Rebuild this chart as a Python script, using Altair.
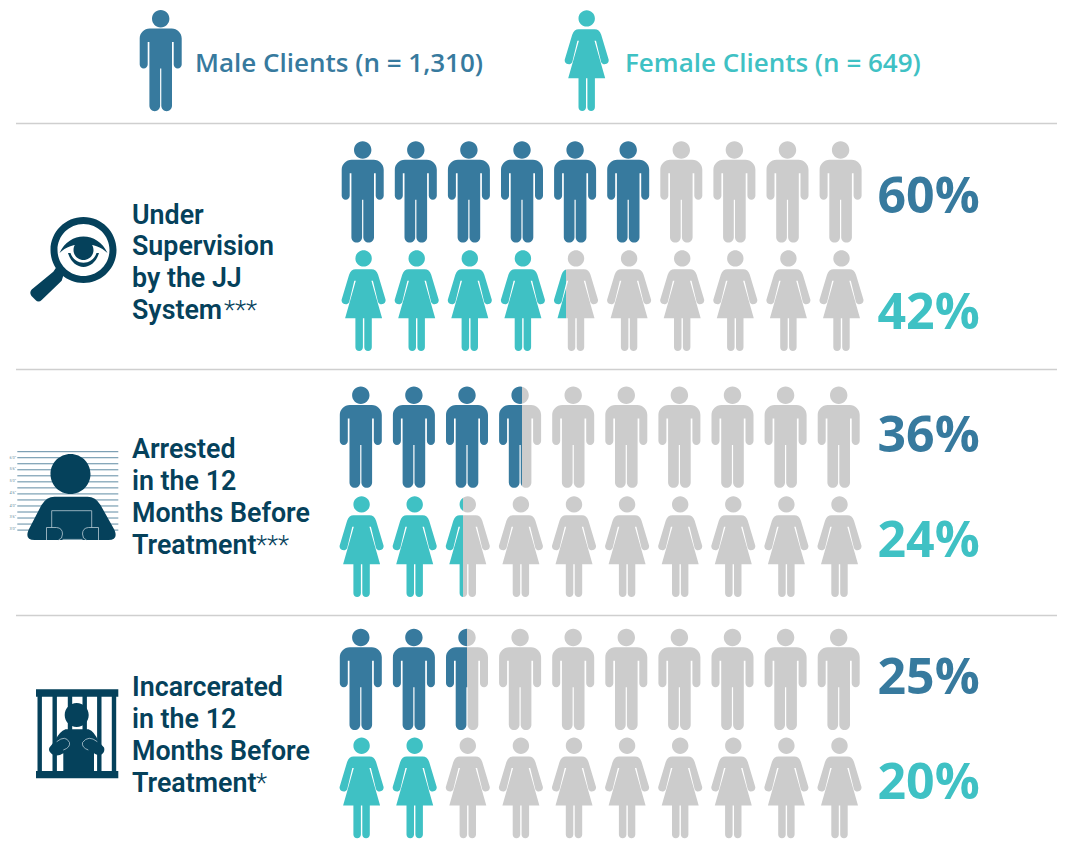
import altair as alt
import pandas as pd

# ---------- values ----------
indicators = ["Under Supervision by the JJ System", "Arrested in the 12 Months Before Treatment",
              "Incarcerated in the 12 Months Before Treatment"]
label_lines = [["Under", "Supervision", "by the JJ", "System"],
               ["Arrested", "in the 12", "Months Before", "Treatment"],
               ["Incarcerated", "in the 12", "Months Before", "Treatment"]]
significance = ["***", "***", "*"]
male_pct = [60, 36, 25]
female_pct = [42, 24, 20]
# number of figures coloured, as drawn in the picture
male_drawn = [6.0, 3.54, 2.5]
female_drawn = [4.27, 2.40, 2.0]
legend_text = ["Male Clients (n = 1,310)", "Female Clients (n = 649)"]
height_marks = ["6'0\"", "5'6\"", "5'0\"", "4'6\"", "4'0\"", "3'6\"", "3'0\""]

# ---------- style ----------
MALE = "#377a9e"
FEMALE = "#3fc1c4"
GREY = "#cccccc"
DARK = "#05415b"
LIGHT = "#b8cad4"
RULE = "#cfcfcf"
LABEL_FONT = "Roboto"
NUM_FONT = "Open Sans"

# ---------- layout (page pixels) ----------
W, H = 1049, 834
XS = alt.Scale(domain=[8, 8 + W], range=[0, W])
YS = alt.Scale(domain=[8, 8 + H], range=[0, H], reverse=False)
COL_STEP = 53.1
rows_male_x0 = [362.7, 360.8, 360.8]
rows_female_x0 = [363.6, 361.6, 361.6]
rows_male_y = [192, 437.3, 679.5]
rows_female_y = [300.7, 546.7, 788]
value_male_base = [213, 452, 694]
value_female_base = [329, 557, 799]
label_base = [[223.5, 255, 287, 319], [458, 490, 522, 554], [696, 728, 760, 792]]
star_x = [224, 256, 256]
rule_y = [123.5, 369.5, 615.5]

# ---------- glyphs: drawn 1:1 in pixels at size=4 ----------
MAN = ("M-8.7,-42 A8.7,8.7 0 1 1 8.7,-42 A8.7,8.7 0 1 1 -8.7,-42 Z "
       "M-11,-32.2 L11,-32.2 A10,10 0 0 1 21,-22.2 L21,3.8 A4,4 0 0 1 13,3.8 L13,-18.8 L11.3,-18.8 "
       "L11.3,45.15 A5.35,5.35 0 0 1 0.6,45.15 L0.6,7.8 L-0.6,7.8 L-0.6,45.15 A5.35,5.35 0 0 1 -11.3,45.15 "
       "L-11.3,-18.8 L-13,-18.8 L-13,3.8 A4,4 0 0 1 -21,3.8 L-21,-22.2 A10,10 0 0 1 -11,-32.2 Z")
WOMAN = ("M-8.2,-42.3 A8.2,8.2 0 1 1 8.2,-42.3 A8.2,8.2 0 1 1 -8.2,-42.3 Z "
         "M-8,-31.4 L8,-31.4 Q12.5,-31.4 14.5,-26 L22,-1 A4,4 0 0 1 14.4,1.2 L9.3,-20 L7.8,-20 L18.5,17.6 "
         "L8.2,17.6 L8.2,46.6 A3.75,3.75 0 0 1 0.7,46.6 L0.7,17.6 L-0.7,17.6 L-0.7,46.6 A3.75,3.75 0 0 1 -8.2,46.6 "
         "L-8.2,17.6 L-18.5,17.6 L-7.8,-20 L-9.3,-20 L-14.4,1.2 A4,4 0 0 1 -22,-1 L-14.5,-26 Q-12.5,-31.4 -8,-31.4 Z")

GLASS = ("M-33,0 A33,33 0 1 1 33,0 A33,33 0 1 1 -33,0 Z "
         "M-26,0 A26,26 0 1 0 26,0 A26,26 0 1 0 -26,0 Z")
HANDLE = ("M-27,17 L-20,25 L-21.8,30.7 L-41.8,50 Q-45,53 -48,50 L-52,46 Q-54.5,42.5 -51.8,39.5 L-30.2,21.7 Z")
EYE = ("M-24,3 C-14,-19 14,-19 24,3 C12,-9 -12,-9 -24,3 Z "
       "M-10,0 A10,10 0 1 1 10,0 A10,10 0 1 1 -10,0 Z "
       "M-15.5,3 C-10,21.5 10,21.5 15.5,3 L13,3 C9,16 -9,16 -13,3 Z")

MUG = ("M-20,-26 A20,20 0 1 1 20,-26 A20,20 0 1 1 -20,-26 Z "
       "M-16,-3.3 L17,-3.3 Q25,-3.3 30,5 L44,30 Q48,40 38,40 L-36,40 Q-46,40 -42,30 L-29,5 Q-24,-3.3 -16,-3.3 Z")
MUG_LINES = ("M-18.8,27.5 L-18.8,10.7 L21.2,10.7 L21.2,27.5 M-8,39.4 L12,39.4 "
             "M-24,40 L-24,27.5 L-14,27.5 Q-8,28 -8,34 Q-8,39 -12,40 "
             "M28,40 L28,27.5 L18,27.5 Q12,28 12,34 Q12,39 16,40")

def rect(x0, y0, x1, y1):
    return f"M{x0},{y0} L{x1},{y0} L{x1},{y1} L{x0},{y1} Z"

CELL = " ".join([rect(-41.5, -44.2, 40.8, -36.8), rect(-41.5, 37.5, 40.8, 44.8)] +
                [rect(c - 2.2, -37, c + 2.2, 38) for c in (-37.8, -22.8, -7.5, 7.2, 21.8, 36.5)])
INMATE = ("M-12.8,-18.5 A12,12 0 1 1 11.2,-18.5 A12,12 0 1 1 -12.8,-18.5 Z "
          "M-12,-4.2 L11,-4.2 Q17,-2 21,8 L26.5,14 Q28,19 23,21.5 Q19,22 16.5,19.8 L16.5,38 L-14.2,38 "
          "L-14.2,19.8 Q-19,23 -24,21.5 Q-30,18 -28,14 L-22,6.5 Q-18,-2 -12,-4.2 Z")
INMATE_LINES = ("M-20.8,8.2 Q-12,1 -8,9 Q-7,14 -14.2,16.5 M19.8,8.2 Q11,1 5,9 Q4,14 10.8,16.5")

# ---------- tables ----------
solid, partial = [], []
def add_row(path, x0, y, drawn, colour):
    for col in range(10):
        frac = min(max(drawn - col, 0), 1)
        x = x0 + col * COL_STEP
        if frac in (0, 1):
            solid.append(dict(x=x, y=y, path=path, fill=colour if frac == 1 else GREY))
        else:
            partial.append(dict(x=x, y=y, path=path, colour=colour, frac=frac))

for i in range(3):
    add_row(MAN, rows_male_x0[i], rows_male_y[i], male_drawn[i], MALE)
    add_row(WOMAN, rows_female_x0[i], rows_female_y[i], female_drawn[i], FEMALE)

solid += [dict(x=160.7, y=60.7, path=MAN, fill=MALE), dict(x=586.7, y=60.7, path=WOMAN, fill=FEMALE),
          dict(x=83.5, y=250, path=GLASS, fill=DARK), dict(x=83.5, y=250, path=HANDLE, fill=DARK),
          dict(x=83.5, y=250, path=EYE, fill=DARK)]

# mugshot ruler lines lie under the figure
ruler_y = [451.7 + 6.03 * k for k in range(14)]
ruler = pd.DataFrame({"x": 17.3, "x2": 118.3, "y": ruler_y})
marks_y = [458, 469, 481, 493.3, 505.7, 517, 529]
marks = pd.DataFrame({"x": 9.5, "y": marks_y, "t": height_marks})

icons_top = pd.DataFrame([dict(x=70.5, y=500, path=MUG, fill=DARK), dict(x=77.5, y=733.5, path=CELL, fill=DARK),
                          dict(x=77.5, y=733.5, path=INMATE, fill=DARK)])
outlines = pd.DataFrame([dict(x=70.5, y=500, path=MUG_LINES), dict(x=77.5, y=733.5, path=INMATE_LINES)])

X = alt.X("x:Q", scale=XS, axis=None)
Y = alt.Y("y:Q", scale=YS, axis=None)

def glyph_layer(df):
    return alt.Chart(df).mark_point(filled=True, size=4, opacity=1, strokeWidth=0).encode(
        x=X, y=Y, shape=alt.Shape("path:N", scale=None), fill=alt.Fill("fill:N", scale=None))

layers = [
    alt.Chart(pd.DataFrame({"x": 16, "x2": 1057, "y": rule_y})).mark_rule(color=RULE, strokeWidth=1.3).encode(
        x=X, x2="x2:Q", y=Y),
    alt.Chart(ruler).mark_rule(color="#4d7e98", strokeWidth=0.9).encode(x=X, x2="x2:Q", y=Y),
    alt.Chart(marks).mark_text(align="left", baseline="middle", fontSize=4, color="#6f93a6", font="Roboto").encode(
        x=X, y=Y, text="t:N"),
    glyph_layer(pd.DataFrame(solid)),
    glyph_layer(icons_top),
    alt.Chart(outlines).mark_point(filled=False, size=4, opacity=1, strokeWidth=0.8, color=LIGHT).encode(
        x=X, y=Y, shape=alt.Shape("path:N", scale=None)),
]

for p in partial:
    grad = alt.LinearGradient(gradient="linear", x1=0, x2=1, y1=0, y2=0, stops=[
        alt.GradientStop(color=p["colour"], offset=0), alt.GradientStop(color=p["colour"], offset=p["frac"]),
        alt.GradientStop(color=GREY, offset=p["frac"]), alt.GradientStop(color=GREY, offset=1)])
    layers.append(
        alt.Chart(pd.DataFrame([p])).mark_point(filled=True, size=4, opacity=1, strokeWidth=0, shape=p["path"], fill=grad)
        .encode(x=X, y=Y))

# ---------- text ----------
def text_layer(rows, font, size, weight, align="left"):
    return alt.Chart(pd.DataFrame(rows)).mark_text(
        align=align, baseline="alphabetic", font=font, fontSize=size, fontWeight=weight).encode(
        x=X, y=Y, text="t:N", color=alt.Color("c:N", scale=None))

layers.append(text_layer([dict(x=195, y=71.7, t=legend_text[0], c=MALE),
                          dict(x=625, y=71.7, t=legend_text[1], c=FEMALE)], NUM_FONT, 26, 600))
values = []
for i in range(3):
    values.append(dict(x=877.5, y=value_male_base[i], t=f"{male_pct[i]}%", c=MALE))
    values.append(dict(x=877.5, y=value_female_base[i], t=f"{female_pct[i]}%", c=FEMALE))
layers.append(text_layer(values, NUM_FONT, 50, 700))

label_rows, star_rows = [], []
for i in range(3):
    for line, base in zip(label_lines[i], label_base[i]):
        label_rows.append(dict(x=132, y=base, t=line, c=DARK))
    star_rows.append(dict(x=star_x[i], y=label_base[i][3], t=significance[i], c=DARK))
layers.append(text_layer(label_rows, LABEL_FONT, 26.8, 600))
layers.append(text_layer(star_rows, LABEL_FONT, 26, 300))

chart = alt.layer(*layers).properties(width=W, height=H, padding=0,
                                      autosize=alt.AutoSizeParams(type="none")).configure_view(stroke=None)
chart.save("out.html", embed_options={"renderer": "svg", "actions": False})
